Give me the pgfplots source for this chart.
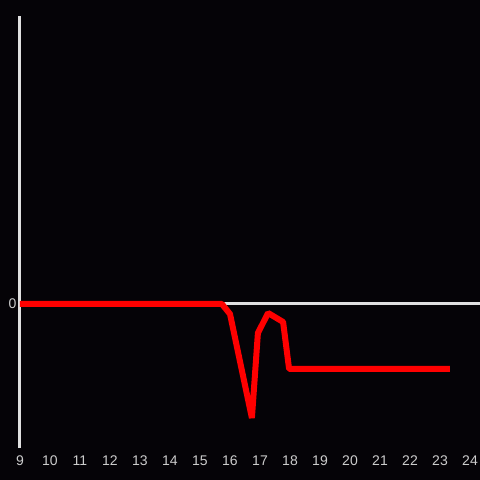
\documentclass[border=0pt]{standalone}
\usepackage{pgfplots}
\pgfplotsset{compat=1.18}
\usepackage{fontspec}
\setmainfont{Liberation Sans}
\definecolor{bgc}{HTML}{050307}
\definecolor{axc}{HTML}{E0E0E0}
\definecolor{txc}{HTML}{CCCCCC}
\definecolor{redc}{HTML}{FF0000}
\begin{document}
\begin{tikzpicture}
\useasboundingbox (-20bp,-32bp) rectangle (460bp,448bp);
\fill[bgc] (-20bp,-32bp) rectangle (460bp,448bp);
\begin{axis}[
  at={(0,0)}, anchor=south west,
  scale only axis,
  width=460bp, height=432bp,
  xmin=9, xmax=24.3333,
  ymin=-144, ymax=288,
  axis x line*=bottom,
  axis y line*=left,
  x axis line style={draw=none},
  y axis line style={draw=axc, line width=3bp, -},
  xtick={9,10,...,24},
  ytick={0},
  major tick length=0pt,
  tick style={draw=none},
  xticklabel style={font=\fontsize{14bp}{16bp}\selectfont, text=txc, yshift=-4.5bp},
  yticklabel style={font=\fontsize{14bp}{16bp}\selectfont, text=txc, xshift=0bp},
  /pgf/number format/assume math mode=true,
  clip=false,
]
\addplot[axc, line width=3bp] coordinates {(9,0) (24.3333,0)};
\addplot[redc, line width=6bp, line join=bevel] coordinates {
(9,0) (15.73,0) (16.0,-10) (16.73,-114) (16.93,-29) (17.27,-9) (17.77,-18) (17.97,-65) (23.33,-65)
};
\end{axis}
\end{tikzpicture}
\end{document}
